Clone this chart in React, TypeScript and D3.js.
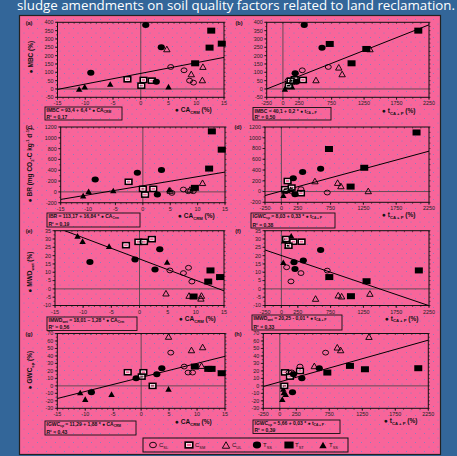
import React from "react";
import * as d3 from "d3";

type Pt = [number, number];
type Part = [string, number];

// (a) MBC vs CA_CRM
const aCsl: Pt[] = [[5.4, 132], [7.8, 112], [8.8, 50], [9.5, 38]];
const aCsm: Pt[] = [[-2.4, 58], [0.5, 54], [0.1, 20], [2, 50]];
const aCul: Pt[] = [[4.7, 240], [11.2, 134], [9.1, 90], [11.1, 54]];
const aTss: Pt[] = [[0.9, 384], [3.7, 250], [-9, 98], [2.8, 44]];
const aTst: Pt[] = [[12.7, 350], [12.4, 248], [14.6, 272], [9.8, 154]];
const aTul: Pt[] = [[-11.1, 0], [-10.1, 14], [-5.5, 30], [5, 14]];
// (b) MBC vs t
const bCsl: Pt[] = [[699, 132], [298, 112], [80, 50], [146, 38]];
const bCsm: Pt[] = [[181, 58], [308, 54], [90, 20], [120, 50]];
const bCul: Pt[] = [[1341, 240], [860, 130], [912, 90], [509, 54]];
const bTss: Pt[] = [[328, 384], [602, 248], [189, 94], [207, 44]];
const bTst: Pt[] = [[721, 270], [1284, 240], [1057, 154], [2085, 350]];
const bTul: Pt[] = [[30, 0], [50, 14], [100, 30], [140, 14]];
// (c) BR vs CA_CRM
const cCsl: Pt[] = [[5.3, -19], [7.4, 44], [8.3, 12], [9.2, 12]];
const cCsm: Pt[] = [[-2.6, 187], [0, 56], [1.9, 56], [0.4, -50]];
const cCul: Pt[] = [[10.9, 169], [5, 25], [8.6, 44], [9.2, 75]];
const cTss: Pt[] = [[-8.7, 231], [-1, 356], [3.4, 406], [2.65, -50]];
const cTst: Pt[] = [[12.6, 1119], [14.4, 781], [12.1, 431], [9.5, 75]];
const cTul: Pt[] = [[-10.9, -69], [-9.9, 12], [-5.4, 25], [4.8, 44]];
// (d) BR vs t
const dCsl: Pt[] = [[699, -19], [298, 44], [80, 12], [146, 12]];
const dCsm: Pt[] = [[95, 196], [156, 74], [298, -31], [55, 43]];
const dCul: Pt[] = [[511, 196], [857, 166], [907, 104], [1324, 12]];
const dTss: Pt[] = [[598, 423], [324, 362], [181, 245], [207, -50]];
const dTst: Pt[] = [[2060, 1098], [725, 791], [1263, 442], [1055, 92]];
const dTul: Pt[] = [[30, -69], [50, 12], [90, 25], [140, 44]];
// (e) MWD vs CA_CRM
const eCsl: Pt[] = [[5.4, 11.1], [8.7, 12.7], [7.8, 9.5], [9.3, 4.4]];
const eCsm: Pt[] = [[-2.4, 26.3], [-0.2, 28.3], [0.8, 28.3], [2.2, 29.9]];
const eCul: Pt[] = [[4.7, -2.6], [8.8, -4], [11, -4], [10.9, -5.7]];
const eTss: Pt[] = [[-8.8, 16.2], [-0.8, 17.6], [3.6, 23.8], [2.75, 11.7]];
const eTst: Pt[] = [[12.6, 11.1], [12.2, 4.4], [14.3, 7.1], [9.6, -4.6]];
const eTul: Pt[] = [[-11, 31.9], [-10.1, 28.7], [-5.4, 25.7], [4.9, 16.2]];
// (f) MWD vs t
const fCsl: Pt[] = [[699, 11], [146, 4.5], [298, 9.5], [80, 13]];
const fCsm: Pt[] = [[308, 28.4], [181, 28.4], [70, 30], [110, 26]];
const fCul: Pt[] = [[521, -5.8], [867, -3.8], [918, -4.4], [1349, -2.8]];
const fTss: Pt[] = [[598, 23.4], [192, 16], [334, 17], [207, 12]];
const fTst: Pt[] = [[730, 7.1], [1298, 4.6], [1060, -4.4], [2095, 11.1]];
const fTul: Pt[] = [[29, 16], [150, 32], [40, 29], [90, 26]];
// (g) GWC vs CA_CRM
const gCsl: Pt[] = [[5.3, 44.4], [7.7, 25.8], [8.4, 17.8], [9.2, 17.8]];
const gCsm: Pt[] = [[-2.4, 18.2], [0.4, 18.2], [0.1, 12.4], [2.05, 0]];
const gCul: Pt[] = [[4.9, 66], [9, 48], [11, 52], [10.8, 27]];
const gTss: Pt[] = [[-8.9, -8.4], [-0.9, 10.2], [3.7, 23.6], [2.8, 15.6]];
const gTst: Pt[] = [[9.6, 25.8], [12, 22.7], [12.6, 22.7], [14.4, 16.9]];
const gTul: Pt[] = [[-10.9, -8.9], [-10, -17.8], [-5.3, -11.1], [4.9, -4]];
// (h) GWC vs t
const hCsl: Pt[] = [[694, 44.4], [306, 25.8], [180, 18], [140, 18]];
const hCsm: Pt[] = [[78, 18], [306, 20], [68, 0], [154, 12.4]];
const hCul: Pt[] = [[1351, 65.8], [871, 51.6], [922, 48], [523, 26.7]];
const hTss: Pt[] = [[598, 23.6], [334, 10.2], [192, -8.4], [207, 15.6]];
const hTst: Pt[] = [[720, 17.8], [1063, 26.7], [1290, 22.2], [2098, 23.6]];
const hTul: Pt[] = [[60, -8.9], [38, -17.8], [90, -11.1], [53, -4]];

// regression lines [intercept, slope]
const fitA = [93.4, 6.4];
const fitB = [38.4, 0.154];
const fitC = [113.17, 16.84];
const fitD = [8.03, 0.33];
const fitE = [18.01, -1.28];
const fitF = [20.05, -0.0134];
const fitG = [11.29, 1.88];
const fitH = [5.3, 0.0248];

const caTicks = [-15, -10, -5, 0, 5, 10, 15];
const tTicks = [-250, 0, 250, 750, 1250, 1750, 2250];

const legendItems: [string, string, string][] = [
  ["csl", "C", "SL"], ["csm", "C", "SM"], ["cul", "C", "UL"],
  ["tss", "T", "SS"], ["tst", "T", "ST"], ["tul", "T", "SS"],
];

const PINK = "#f8659a";
const BLUE = "#336699";
const FONT = "Liberation Sans, Arial, sans-serif";

function Marker({ kind, x, y, s = 1 }: { kind: string; x: number; y: number; s?: number }) {
  if (kind === "csl") return <ellipse cx={x} cy={y} rx={3 * s} ry={2.4 * s} fill="none" stroke="#000" strokeWidth={0.9} />;
  if (kind === "tss") return <ellipse cx={x} cy={y} rx={3.6 * s} ry={3 * s} fill="#000" />;
  if (kind === "tst") return <rect x={x - 4 * s} y={y - 3 * s} width={8 * s} height={6 * s} fill="#000" />;
  if (kind === "csm")
    return (
      <g>
        <rect x={x - 3.3 * s} y={y - 2.5 * s} width={6.6 * s} height={5 * s} fill="none" stroke="#000" strokeWidth={1.6} />
        <rect x={x - 2.1 * s} y={y - 1.3 * s} width={4.2 * s} height={2.6 * s} fill="none" stroke="#fff" strokeWidth={0.7} />
      </g>
    );
  const w = 3.2 * s, h = 2.8 * s;
  const d = `M${x},${y - h}L${x + w},${y + h}L${x - w},${y + h}Z`;
  if (kind === "cul") return <path d={d} fill="none" stroke="#000" strokeWidth={0.9} />;
  return <path d={d} fill="#000" />;
}

function Rich({ parts, x, y, size, weight = "bold", anchor = "start", transform }: { parts: Part[]; x?: number; y?: number; size: number; weight?: string; anchor?: string; transform?: string }) {
  let prev = 0;
  return (
    <text x={x} y={y} fontSize={size} fontWeight={weight} fontFamily={FONT} textAnchor={anchor} transform={transform} fill="#111">
      {parts.map(([t, k], i) => {
        const o = k === 1 ? size * 0.25 : k === -1 ? -size * 0.4 : 0;
        const dy = o - prev;
        prev = o;
        return (
          <tspan key={i} dy={dy} fontSize={k ? size * 0.65 : size}>{t}</tspan>
        );
      })}
    </text>
  );
}

interface Cfg {
  id: string;
  px: [number, number];
  py: [number, number];
  xDom: [number, number];
  yDom: [number, number];
  yStep: number;
  right: boolean;
  series: Record<string, Pt[]>;
  fit: number[];
  letter: [number, number];
  yTitle?: { parts: Part[]; c: [number, number] };
  eq: Part[];
  r2: string;
  box: [number, number, number, number];
  xt: [number, number];
}

const caTitle: Part[] = [["● CA", 0], ["CRM", 1], [" (%)", 0]];
const tTitle: Part[] = [["● t", 0], ["CA + P", 1], [" (%)", 0]];

const panels: Cfg[] = [
  { id: "a", px: [57.5, 224], py: [22.3, 97.3], xDom: [-15, 15], yDom: [-50, 400], yStep: 50, right: false,
    series: { csl: aCsl, csm: aCsm, cul: aCul, tss: aTss, tst: aTst, tul: aTul }, fit: fitA, letter: [29, 25],
    yTitle: { parts: [["● MBC (%)", 0]], c: [33, 57] },
    eq: [["IMBC = 93,4 + 6,4 * ● CA", 0], ["CRM", 1]], r2: "R² = 0,17", box: [45, 107, 77, 13], xt: [175, 112] },
  { id: "b", px: [266.7, 429], py: [22.3, 97.3], xDom: [-250, 2250], yDom: [-50, 400], yStep: 50, right: true,
    series: { csl: bCsl, csm: bCsm, cul: bCul, tss: bTss, tst: bTst, tul: bTul }, fit: fitB, letter: [239, 25],
    eq: [["IMBC = 40,1 + 0,2 * ● t", 0], ["CA + P", 1]], r2: "R² = 0,50", box: [253, 107.5, 78, 12.5], xt: [382, 113] },
  { id: "c", px: [60.7, 225], py: [127, 202.7], xDom: [-15, 15], yDom: [-200, 1200], yStep: 200, right: false,
    series: { csl: cCsl, csm: cCsm, cul: cCul, tss: cTss, tst: cTst, tul: cTul }, fit: fitC, letter: [29, 129],
    yTitle: { parts: [["● BR (mg CO", 0], ["2", 1], ["-C kg", 0], ["-1", -1], [" d", 0], ["-1", -1], [")", 0]], c: [32, 165] },
    eq: [["IBR = 113,17 + 16,84 * ● CA", 0], ["Crm", 1]], r2: "R² = 0,19", box: [47, 213, 93, 14], xt: [178, 218] },
  { id: "d", px: [265, 429], py: [127, 202.3], xDom: [-250, 2250], yDom: [-200, 1200], yStep: 200, right: true,
    series: { csl: dCsl, csm: dCsm, cul: dCul, tss: dTss, tst: dTst, tul: dTul }, fit: fitD, letter: [238, 129],
    eq: [["IGWC", 0], ["sp", 1], [" = 8,03 + 0,33 * ● t", 0], ["CA + P", 1]], r2: "R² = 0,38", box: [251, 213, 84, 15], xt: [382, 217] },
  { id: "e", px: [55, 224], py: [230.7, 305.5], xDom: [-15, 15], yDom: [-10, 35], yStep: 5, right: false,
    series: { csl: eCsl, csm: eCsm, cul: eCul, tss: eTss, tst: eTst, tul: eTul }, fit: fitE, letter: [29, 233],
    yTitle: { parts: [["● MWD", 0], ["wet", 1], [" (%)", 0]], c: [32, 272] },
    eq: [["IMWD", 0], ["wet", 1], [" = 18,01 – 1,28 * ● CA", 0], ["Crm", 1]], r2: "R² = 0,56", box: [47, 317, 90, 13.5], xt: [179, 321] },
  { id: "f", px: [265, 429], py: [230.7, 305.5], xDom: [-250, 2250], yDom: [-10, 35], yStep: 5, right: true,
    series: { csl: fCsl, csm: fCsm, cul: fCul, tss: fTss, tst: fTst, tul: fTul }, fit: fitF, letter: [238, 233],
    eq: [["IMWD", 0], ["wet", 1], [" = 20,25 - 0,01 * ● t", 0], ["CA + P", 1]], r2: "R² = 0,33", box: [252, 315, 90, 15], xt: [385, 320.5] },
  { id: "g", px: [57.3, 225], py: [333.5, 408.3], xDom: [-15, 15], yDom: [-30, 70], yStep: 10, right: false,
    series: { csl: gCsl, csm: gCsm, cul: gCul, tss: gTss, tst: gTst, tul: gTul }, fit: fitG, letter: [29, 336],
    yTitle: { parts: [["● GWC", 0], ["sp", 1], [" (%)", 0]], c: [32, 370] },
    eq: [["IGWC", 0], ["sp", 1], [" = 11,29 + 1,88 * ● CA", 0], ["CRM", 1]], r2: "R² = 0,43", box: [45, 421, 91, 14], xt: [175, 424] },
  { id: "h", px: [263.3, 428.3], py: [333.5, 408.3], xDom: [-250, 2250], yDom: [-30, 70], yStep: 10, right: true,
    series: { csl: hCsl, csm: hCsm, cul: hCul, tss: hTss, tst: hTst, tul: hTul }, fit: fitH, letter: [238, 336],
    eq: [["IGWC", 0], ["sp", 1], [" = 5,66 + 0,03 * ● t", 0], ["CA + P", 1]], r2: "R² = 0,39", box: [253, 420, 87, 13.5], xt: [384, 423] },
];

const order = ["tul", "csm", "csl", "cul", "tss", "tst"];

function Panel({ c }: { c: Cfg }) {
  const x = d3.scaleLinear().domain(c.xDom).range(c.px);
  const y = d3.scaleLinear().domain(c.yDom).range([c.py[1], c.py[0]]);
  const yT = d3.range(c.yDom[0], c.yDom[1] + 1e-6, c.yStep);
  const yMinor = d3.range(c.yDom[0], c.yDom[1] + 1e-6, c.yStep / 2);
  const xT = c.right ? tTicks : caTicks;
  const xMinor = c.right ? d3.range(-250, 2251, 125) : d3.range(-15, 16, 1);
  const [a, b] = c.fit;
  const clip = `clip-${c.id}`;
  const [x0, x1] = c.px;
  const [y0, y1] = c.py;
  return (
    <g>
      <clipPath id={clip}><rect x={x0} y={y0} width={x1 - x0} height={y1 - y0} /></clipPath>
      {/* zero lines */}
      <line x1={x0} x2={x1} y1={y(0)} y2={y(0)} stroke="#444" strokeWidth={0.8} />
      <line x1={x(0)} x2={x(0)} y1={y0} y2={y1} stroke="#444" strokeWidth={0.8} />
      <rect x={x0} y={y0} width={x1 - x0} height={y1 - y0} fill="none" stroke="#111" strokeWidth={1} />
      {yMinor.map((v) => (
        <g key={"ym" + v}>
          <line x1={x0 - 1.5} x2={x0} y1={y(v)} y2={y(v)} stroke="#111" strokeWidth={0.6} />
          <line x1={x1} x2={x1 + 1.5} y1={y(v)} y2={y(v)} stroke="#111" strokeWidth={0.6} />
        </g>
      ))}
      {yT.map((v) => (
        <g key={"y" + v}>
          <line x1={x0 - 2.5} x2={x0} y1={y(v)} y2={y(v)} stroke="#111" strokeWidth={0.8} />
          <text x={x0 - 4} y={y(v) + 1.9} fontSize={5.4} fontFamily={FONT} textAnchor="end" fill="#222">{v}</text>
        </g>
      ))}
      {xMinor.map((v) => (
        <g key={"xm" + v}>
          <line x1={x(v)} x2={x(v)} y1={y0} y2={y0 + 1.5} stroke="#111" strokeWidth={0.6} />
          <line x1={x(v)} x2={x(v)} y1={y1} y2={y1 + 1.5} stroke="#111" strokeWidth={0.6} />
        </g>
      ))}
      {xT.map((v) => (
        <g key={"x" + v}>
          <line x1={x(v)} x2={x(v)} y1={y1} y2={y1 + 2.5} stroke="#111" strokeWidth={0.8} />
          <text x={x(v)} y={y1 + 8} fontSize={5.4} fontFamily={FONT} textAnchor="middle" fill="#222">{v}</text>
        </g>
      ))}
      <line x1={x(c.xDom[0])} x2={x(c.xDom[1])} y1={y(a + b * c.xDom[0])} y2={y(a + b * c.xDom[1])}
        stroke="#000" strokeWidth={1} clipPath={`url(#${clip})`} />
      {order.map((k) =>
        c.series[k].map((p, i) => <Marker key={k + i} kind={k} x={x(p[0])} y={y(p[1])} />)
      )}
      <text x={c.letter[0]} y={c.letter[1]} fontSize={5.5} fontWeight="bold" fontFamily={FONT} textAnchor="middle" fill="#111">({c.id})</text>
      {c.yTitle && (
        <Rich parts={c.yTitle.parts} size={6.5} anchor="middle"
          transform={`translate(${c.yTitle.c[0]},${c.yTitle.c[1]}) rotate(-90)`} />
      )}
      <rect x={c.box[0]} y={c.box[1]} width={c.box[2]} height={c.box[3]} fill="none" stroke="#111" strokeWidth={0.9} />
      <Rich parts={c.eq} x={c.box[0] + 1.5} y={c.box[1] + 5} size={5} />
      <Rich parts={[[c.r2, 0]]} x={c.box[0] + 1.5} y={c.box[1] + c.box[3] - 1.5} size={5} />
      <Rich parts={c.right ? tTitle : caTitle} x={c.xt[0]} y={c.xt[1]} size={6.5} />
    </g>
  );
}

export default function App() {
  const lx = [153, 189, 226, 257, 289, 323];
  return (
    <svg width={457} height={456} style={{ position: "absolute", left: 0, top: 0 }}>
      <defs>
        <pattern id="dots" width={9} height={9} patternUnits="userSpaceOnUse">
          <circle cx={1.5} cy={1.5} r={0.55} fill="#7584c4" />
          <circle cx={6} cy={6} r={0.55} fill="#7584c4" />
        </pattern>
      </defs>
      <rect width={457} height={456} fill={BLUE} />
      <text x={17} y={9.5} fill="#fff" fontSize={12.5} fontFamily="Open Sans, sans-serif" textLength={438} lengthAdjust="spacingAndGlyphs">
        sludge amendments on soil quality factors related to land reclamation.
      </text>
      <rect x={19.5} y={15.5} width={421} height={439} fill={PINK} stroke="#222" strokeWidth={1.2} />
      <rect x={20} y={16} width={420} height={438} fill="url(#dots)" />
      {panels.map((p) => <Panel key={p.id} c={p} />)}
      <rect x={143} y={438} width={205} height={14} fill="none" stroke="#111" strokeWidth={1} />
      {legendItems.map(([k, a, b], i) => (
        <g key={k + i}>
          <Marker kind={k} x={lx[i]} y={445} s={1.15} />
          <Rich parts={[[a, 0], [b, 1]]} x={lx[i] + 6} y={447} size={6} weight="normal" />
        </g>
      ))}
    </svg>
  );
}
